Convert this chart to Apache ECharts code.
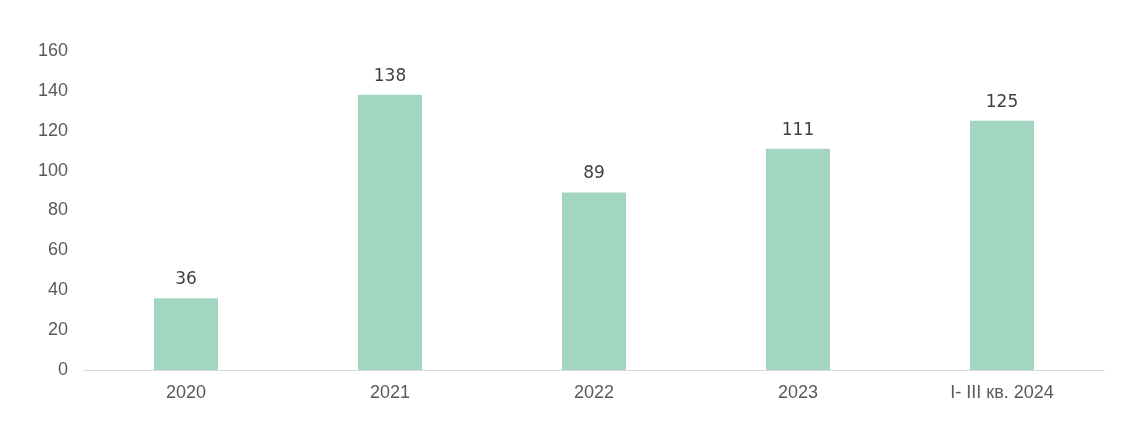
<!DOCTYPE html>
<html>
<head>
<meta charset="utf-8">
<script src="https://cdn.jsdelivr.net/npm/echarts@6/dist/echarts.min.js"></script>
<style>html,body{margin:0;padding:0;background:#fff}</style>
</head>
<body>
<div id="chart" style="width:1129px;height:435px"></div>
<script>
var categories = ['2020', '2021', '2022', '2023', 'I- III кв. 2024'];
var values = [36, 138, 89, 111, 125];

var myChart = echarts.init(document.getElementById('chart'));
myChart.setOption({
    animation: false,
    grid: { left: 84, right: 25, top: 51, bottom: 65 },
    xAxis: {
        type: 'category',
        data: categories,
        axisLine: { lineStyle: { color: '#d9d9d9' } },
        axisTick: { show: false },
        axisLabel: { color: '#595959', fontSize: 18, fontFamily: 'Arial', margin: 14 }
    },
    yAxis: {
        type: 'value',
        min: 0,
        max: 160,
        interval: 20,
        splitLine: { show: false },
        axisLine: { show: false },
        axisLabel: { color: '#595959', fontSize: 18, fontFamily: 'Arial', margin: 16 }
    },
    series: [{
        type: 'bar',
        data: values,
        barWidth: 64,
        itemStyle: { color: '#a3d6c1' },
        label: {
            show: true,
            position: 'top',
            distance: 10,
            color: '#404040',
            fontSize: 17,
            fontFamily: 'DejaVu Sans'
        }
    }]
});
</script>
</body>
</html>
